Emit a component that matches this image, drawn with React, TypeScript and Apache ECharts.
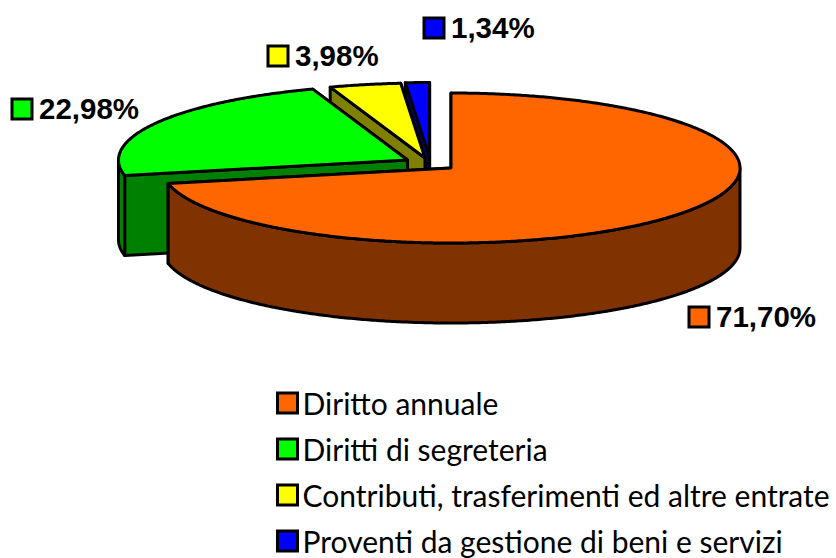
import React, { useEffect, useRef } from "react";
import * as echarts from "echarts";

const categories = [
  "Diritto annuale",
  "Diritti di segreteria",
  "Contributi, trasferimenti ed altre entrate",
  "Proventi da gestione di beni e servizi",
];
const shares = [71.7, 22.98, 3.98, 1.34];
const topColors = ["#FF6600", "#00FF00", "#FFFF00", "#0000FF"];
const sideColors = ["#803300", "#008000", "#808000", "#000080"];

// Drawing geometry of the tilted pie
const RX = 289;
const RY = 75;
const DEPTH = 80;
const STROKE = 3;
const sliceCentres = [
  [451, 168],
  [407.5, 160],
  [425, 158],
  [429.6, 157.5],
];
const labelBoxes = [
  [689, 307],
  [12, 99],
  [268, 46],
  [424, 18],
];
const BOX = 20;

const rad = (deg: number) => (deg * Math.PI) / 180;

function renderSlice(index: number) {
  return (_params: any, api: any) => {
    const value = api.value(0) as number;
    const before = api.value(1) as number;
    const start = (before / 100) * 360;
    const end = ((before + value) / 100) * 360;
    const [cx, cy] = sliceCentres[index];
    const pt = (a: number, dy = 0) => [
      cx + RX * Math.sin(rad(a)),
      cy - RY * Math.cos(rad(a)) + dy,
    ];
    const arc = (from: number, to: number, dy = 0) => {
      const pts: number[][] = [];
      const n = Math.max(2, Math.ceil((to - from) * 2));
      for (let i = 0; i <= n; i++) pts.push(pt(from + ((to - from) * i) / n, dy));
      return pts;
    };
    const base = { stroke: "#000", lineWidth: STROKE, lineJoin: "round" };
    const poly = (points: number[][], fill: string) => ({
      type: "polygon",
      shape: { points },
      style: { ...base, fill },
      silent: true,
    });
    const side = sideColors[index];
    const face = (a: number) =>
      poly([[cx, cy], pt(a), pt(a, DEPTH), [cx, cy + DEPTH]], side);

    const children: any[] = [face(end), face(start)];
    const wallFrom = Math.max(start, 90);
    const wallTo = Math.min(end, 270);
    if (wallTo > wallFrom) {
      children.push(
        poly(
          [...arc(wallFrom, wallTo), ...arc(wallFrom, wallTo, DEPTH).reverse()],
          side,
        ),
      );
    }
    children.push(poly([[cx, cy], ...arc(start, end)], topColors[index]));

    const [bx, by] = labelBoxes[index];
    children.push({
      type: "rect",
      shape: { x: bx, y: by, width: BOX, height: BOX },
      style: { fill: topColors[index], stroke: "#000", lineWidth: STROKE },
      silent: true,
    });
    children.push({
      type: "text",
      x: bx + BOX + 7,
      y: by + BOX / 2 - 1,
      style: {
        text: value.toFixed(2).replace(".", ",") + "%",
        fill: "#000",
        fontFamily: "Liberation Sans",
        fontWeight: "bold",
        fontSize: 29.5,
        align: "left",
        verticalAlign: "middle",
      },
      silent: true,
    });
    return { type: "group", children };
  };
}

export default function App() {
  const ref = useRef<HTMLDivElement>(null);
  useEffect(() => {
    document.body.style.margin = "0";
    const chart = echarts.init(ref.current!, undefined, { renderer: "svg" });
    const starts = shares.map((_, i) =>
      shares.slice(0, i).reduce((a, b) => a + b, 0),
    );
    // Painted back to front: the last slice lies furthest from the viewer.
    const series = categories
      .map((name, i) => ({
        type: "custom",
        name,
        coordinateSystem: "none",
        silent: true,
        clip: false,
        itemStyle: { color: topColors[i] },
        renderItem: renderSlice(i),
        data: [{ name, value: [shares[i], starts[i]] }],
      }))
      .reverse();
    chart.setOption({
      animation: false,
      backgroundColor: "#fff",
      legend: {
        orient: "vertical",
        left: 276,
        top: 388,
        padding: 0,
        itemWidth: 20,
        itemHeight: 20,
        itemGap: 16,
        icon: "rect",
        selectedMode: false,
        data: categories,
        itemStyle: { borderColor: "#000", borderWidth: STROKE },
        textStyle: { fontFamily: "Lato", fontSize: 30, color: "#000" },
      },
      series,
    });
    return () => chart.dispose();
  }, []);
  return (
    <div
      ref={ref}
      style={{ position: "fixed", left: 0, top: 0, width: 836, height: 558 }}
    />
  );
}
